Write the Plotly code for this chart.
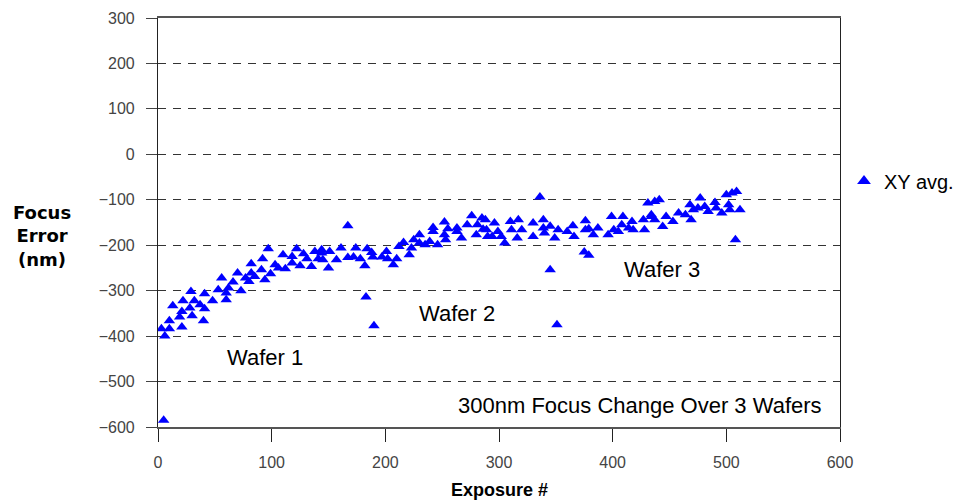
import plotly.graph_objects as go

# Exposure number and focus error (nm)
exposure = [3, 5, 6, 10, 10, 13, 19, 21, 21, 22, 28, 29, 30, 32, 37, 40, 41, 41, 48, 53,
            56, 60, 60, 62, 66, 70, 73, 77, 80, 82, 82, 85, 91, 92, 94, 97, 99, 103, 106, 110,
            112, 118, 118, 122, 125, 128, 131, 135, 138, 141, 144, 144, 145, 150, 151, 157, 161, 167, 167, 172,
            174, 178, 182, 183, 184, 188, 189, 190, 197, 201, 202, 207, 210, 212, 216, 221, 223, 225, 230, 230,
            235, 239, 242, 242, 246, 252, 253, 252, 255, 263, 263, 267, 272, 276, 280, 281, 285, 286, 289, 290,
            288, 294, 296, 299, 302, 305, 310, 311, 316, 317, 320, 330, 330, 336, 339, 339, 340, 345, 345, 349,
            351, 352, 360, 365, 366, 375, 376, 376, 379, 379, 383, 387, 396, 399, 401, 405, 408, 409, 414, 417,
            418, 427, 428, 431, 434, 434, 437, 437, 441, 444, 447, 453, 458, 464, 468, 469, 471, 475, 477, 481,
            484, 490, 491, 496, 500, 502, 503, 505, 508, 509, 512]
focus_error = [-384, -585, -400, -384, -366, -333, -358, -380, -346, -322, -338, -302, -355, -322, -331, -366, -340, -307, -322, -298,
               -272, -320, -305, -294, -281, -261, -300, -272, -280, -261, -241, -269, -254, -230, -276, -208, -263, -243, -250, -221,
               -252, -239, -225, -208, -245, -219, -230, -247, -214, -230, -217, -210, -232, -250, -214, -232, -206, -157, -227, -226,
               -206, -230, -245, -314, -208, -216, -226, -377, -226, -214, -230, -243, -230, -203, -194, -221, -206, -188, -177, -195,
               -199, -192, -161, -170, -199, -177, -188, -149, -164, -162, -170, -184, -155, -135, -177, -155, -140, -165, -166, -181,
               -144, -181, -151, -170, -181, -195, -148, -166, -184, -144, -166, -151, -181, -94, -144, -162, -173, -158, -254, -184,
               -375, -166, -170, -157, -181, -215, -146, -166, -222, -164, -177, -162, -177, -137, -166, -170, -155, -137, -162, -148,
               -166, -144, -166, -107, -137, -133, -144, -104, -100, -159, -137, -148, -129, -133, -111, -144, -122, -118, -96, -115,
               -126, -106, -118, -129, -89, -111, -122, -85, -188, -82, -122]

series_name = "XY avg."
x_ticks = [0, 100, 200, 300, 400, 500, 600]
y_ticks = [300, 200, 100, 0, -100, -200, -300, -400, -500, -600]

notes = ["Wafer 1", "Wafer 2", "Wafer 3", "300nm Focus Change Over 3 Wafers"]
note_x = [94, 263, 443, 424]
note_y = [-446, -351, -254, -553]

FONT = "Liberation Sans, Arial, sans-serif"
tick_font = dict(family=FONT, size=16, color="#444444")

# the page body adds an 8px offset; the figure is sized so the plot area
# lands at x 158..840, y 18..427 in the 961x500 window
PW, PH = 682, 409

fig = go.Figure()
fig.add_trace(go.Scatter(
    x=exposure, y=focus_error, mode="markers", name=series_name,
    marker=dict(symbol="triangle-up", size=10, color="#0000FF", line=dict(width=0)),
))

for t, nx, ny in zip(notes, note_x, note_y):
    fig.add_annotation(x=nx, y=ny, xref="x", yref="y", text=t, showarrow=False,
                       font=dict(family=FONT, size=22, color="#000000"))

fig.add_annotation(x=(42 - 158) / PW, y=(427 - 236) / PH, xref="paper", yref="paper",
                   text="<b>Focus<br>Error<br>(nm)</b>", showarrow=False, align="center",
                   xanchor="center", yanchor="middle",
                   font=dict(family="DejaVu Sans, sans-serif", size=18, color="#000000"))
fig.add_annotation(x=0.5, y=(427 - 490) / PH, xref="paper", yref="paper", text="<b>Exposure #</b>",
                   showarrow=False, xanchor="center", yanchor="middle",
                   font=dict(family=FONT, size=18, color="#000000"))

fig.update_layout(
    width=953, height=492,
    margin=dict(l=150, r=121, t=10, b=73, autoexpand=False),
    paper_bgcolor="white", plot_bgcolor="white",
    showlegend=True,
    legend=dict(x=(844 - 158) / PW, y=(427 - 181) / PH, xanchor="left", yanchor="middle",
                font=dict(family=FONT, size=20, color="#000000"),
                bgcolor="rgba(0,0,0,0)", itemsizing="constant"),
    xaxis=dict(range=[0, 600], tickvals=x_ticks, showgrid=False, zeroline=False,
               showline=True, linecolor="#555555", linewidth=1.5, mirror=True,
               ticks="outside", ticklen=13, tickcolor="#222222", tickfont=tick_font,
               ticklabelstandoff=7, automargin=False),
    yaxis=dict(range=[-600, 300], tickvals=y_ticks, showgrid=True, gridcolor="#333333",
               griddash="8px,7px", gridwidth=1, zeroline=False,
               showline=True, linecolor="#222222", linewidth=1.2, mirror=True,
               ticks="outside", ticklen=11, tickcolor="#444444", tickfont=tick_font,
               ticklabelstandoff=8, automargin=False),
)

fig.write_html("out.html")
